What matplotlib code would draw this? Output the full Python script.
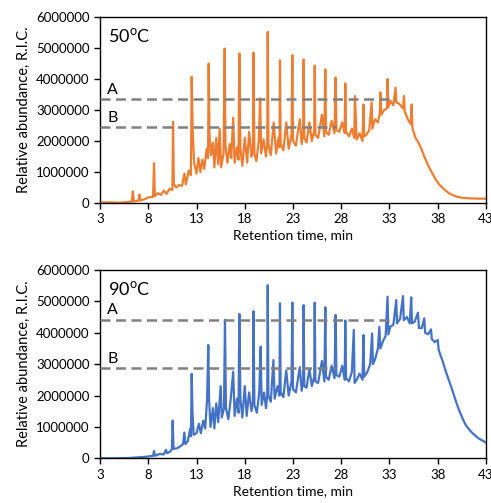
import matplotlib
matplotlib.use("Agg")
import matplotlib.pyplot as plt
import numpy as np

plt.rcParams['font.family'] = ['Lato', 'DejaVu Sans']
plt.rcParams['mathtext.fontset'] = 'custom'
plt.rcParams['mathtext.rm'] = 'Lato'

# ---- data: retention time (min), abundance (millions)
trace_50 = [
    (3.0, 0.02), (4.0, 0.02), (5.0, 0.01), (5.8, 0.03), (6.3, 0.05), (6.4, 0.37), (6.5, 0.05),
    (7.0, 0.08), (7.08, 0.27), (7.15, 0.08), (7.6, 0.12), (8.0, 0.18), (8.5, 0.2), (8.6, 1.29), (8.68, 0.22),
    (9.0, 0.32), (9.3, 0.26), (9.6, 0.4), (9.9, 0.3), (10.2, 0.45), (10.5, 0.42), (10.57, 2.62), (10.65, 0.62),
    (10.9, 0.5), (11.2, 0.58), (11.5, 0.55), (11.75, 0.95), (11.9, 0.6), (12.2, 1.05), (12.42, 0.9),
    (12.5, 4.07), (12.6, 2.35), (12.75, 1.3),
    (13.0, 0.95), (13.2, 1.45), (13.4, 1.0), (13.6, 1.4), (13.8, 1.1), (14.05, 1.75), (14.2, 1.45),
    (14.26, 4.5), (14.35, 2.2),
    (14.5, 1.55), (14.7, 1.95), (14.85, 1.15), (15.05, 2.1), (15.25, 1.25), (15.4, 2.4), (15.55, 1.15),
    (15.8, 1.6), (15.92, 4.98), (16.0, 1.85),
    (16.2, 1.3), (16.45, 1.9), (16.6, 1.45), (16.8, 2.75), (16.95, 1.3), (17.2, 1.8), (17.35, 1.4),
    (17.44, 4.82), (17.55, 1.75),
    (17.75, 1.2), (18.0, 2.1), (18.25, 1.3), (18.45, 2.3), (18.7, 1.5), (18.85, 1.7), (18.9, 4.85), (19.0, 1.6),
    (19.2, 1.35), (19.45, 2.0), (19.6, 3.38), (19.7, 1.6), (19.95, 2.05), (20.2, 1.5), (20.33, 1.9),
    (20.38, 5.52), (20.45, 1.9),
    (20.7, 1.55), (21.0, 2.6), (21.25, 1.6), (21.5, 2.1), (21.6, 1.8), (21.65, 4.6), (21.72, 1.9),
    (22.0, 1.7), (22.3, 2.6), (22.55, 1.75), (22.85, 2.2), (22.93, 4.77), (23.0, 2.0),
    (23.3, 1.85), (23.7, 2.7), (23.9, 1.9), (24.05, 2.3), (24.1, 4.63), (24.17, 2.1),
    (24.4, 1.95), (24.7, 2.6), (24.95, 2.0), (25.2, 2.35), (25.25, 4.43), (25.32, 2.2),
    (25.6, 2.1), (26.0, 2.85), (26.25, 2.15), (26.35, 4.31), (26.42, 2.3),
    (26.7, 2.2), (27.0, 2.65), (27.3, 2.25), (27.42, 4.05), (27.5, 2.35),
    (27.8, 2.3), (28.1, 2.6), (28.35, 2.25), (28.42, 3.86), (28.5, 2.3),
    (28.8, 2.15), (29.1, 2.4), (29.35, 2.1), (29.42, 3.45), (29.6, 2.05),
    (29.9, 2.25), (30.2, 2.0), (30.3, 3.18), (30.38, 2.15), (30.6, 2.2), (30.9, 2.35), (31.15, 3.25), (31.22, 2.4),
    (31.5, 2.7), (31.8, 2.6), (32.0, 2.9), (32.05, 3.57), (32.15, 2.85), (32.45, 3.0), (32.75, 3.05),
    (32.8, 4.0), (32.88, 3.1),
    (33.1, 3.3), (33.4, 3.15), (33.63, 3.72), (33.7, 3.25), (34.0, 3.2), (34.4, 3.05), (34.5, 3.45), (34.58, 2.95),
    (34.9, 2.7), (35.2, 2.55), (35.3, 3.18), (35.38, 2.4), (35.7, 2.1), (36.0, 1.95), (36.3, 1.75), (36.6, 1.5),
    (37.0, 1.22), (37.4, 0.98), (37.8, 0.75), (38.2, 0.58), (38.7, 0.43), (39.2, 0.31), (39.8, 0.22),
    (40.5, 0.17), (41.3, 0.15), (42.2, 0.14), (43.0, 0.14),
]

trace_90 = [
    (3.0, 0.0), (4.5, 0.0), (6.0, 0.01), (7.0, 0.03), (7.8, 0.05), (8.5, 0.08), (8.6, 0.23), (8.7, 0.08),
    (9.2, 0.14), (9.6, 0.12), (9.84, 0.27), (9.95, 0.16), (10.3, 0.22), (10.45, 0.3), (10.53, 1.2), (10.62, 0.3),
    (11.0, 0.32), (11.3, 0.38), (11.6, 0.45), (11.74, 0.82), (11.85, 0.45), (12.1, 0.55), (12.35, 0.95),
    (12.43, 0.7), (12.5, 2.69), (12.58, 1.5), (12.7, 0.75),
    (13.0, 0.8), (13.25, 1.1), (13.45, 0.8), (13.7, 1.2), (13.9, 0.95), (14.1, 1.9), (14.22, 3.61), (14.3, 1.9),
    (14.45, 1.0), (14.7, 1.6), (14.85, 0.95), (15.05, 1.75), (15.25, 1.15), (15.5, 2.3), (15.62, 1.3),
    (15.85, 1.6), (15.95, 4.41), (16.05, 1.6),
    (16.3, 1.25), (16.55, 1.9), (16.8, 2.76), (16.95, 1.35), (17.2, 1.9), (17.35, 1.45), (17.44, 4.6), (17.55, 1.9),
    (17.75, 1.3), (18.0, 2.3), (18.2, 1.35), (18.45, 2.1), (18.7, 1.5), (18.85, 1.8), (18.9, 4.69), (19.0, 1.7),
    (19.25, 1.45), (19.5, 2.1), (19.65, 3.56), (19.75, 1.7), (20.0, 2.1), (20.2, 1.6), (20.33, 2.0),
    (20.38, 5.52), (20.45, 2.0),
    (20.7, 1.8), (20.97, 3.13), (21.1, 1.9), (21.4, 2.3), (21.6, 2.0), (21.65, 4.94), (21.72, 2.1),
    (22.0, 1.95), (22.3, 2.8), (22.55, 2.0), (22.85, 2.45), (22.93, 4.96), (23.0, 2.2),
    (23.3, 2.1), (23.7, 2.9), (23.9, 2.15), (24.05, 2.5), (24.1, 4.88), (24.17, 2.3),
    (24.4, 2.25), (24.7, 2.85), (24.95, 2.3), (25.2, 2.6), (25.25, 4.96), (25.32, 2.45),
    (25.6, 2.4), (26.0, 3.1), (26.25, 2.45), (26.35, 4.81), (26.42, 2.6),
    (26.7, 2.5), (27.0, 2.95), (27.3, 2.55), (27.42, 4.57), (27.5, 2.65),
    (27.8, 2.6), (28.1, 2.95), (28.35, 2.5), (28.42, 4.39), (28.5, 2.55),
    (28.8, 2.45), (29.1, 2.75), (29.3, 4.09), (29.38, 2.4), (29.6, 2.5),
    (29.9, 2.7), (30.2, 2.5), (30.3, 3.93), (30.38, 2.6), (30.7, 2.75), (31.0, 3.0), (31.2, 3.98), (31.28, 3.0),
    (31.5, 3.15), (31.8, 3.5), (31.95, 4.19), (32.05, 3.5), (32.35, 3.75), (32.6, 3.9), (32.8, 5.15), (32.88, 3.95),
    (33.1, 4.2), (33.4, 4.25), (33.7, 5.04), (33.78, 4.3), (34.1, 4.45), (34.4, 5.17), (34.48, 4.4),
    (34.8, 4.5), (35.1, 4.3), (35.25, 5.13), (35.33, 4.3), (35.6, 4.35), (35.95, 4.64), (36.05, 4.15),
    (36.35, 4.15), (36.6, 4.46), (36.7, 4.0), (37.0, 3.95), (37.3, 4.11), (37.38, 3.8), (37.7, 3.7),
    (38.0, 3.77), (38.1, 3.45), (38.5, 3.1), (38.8, 2.8), (39.2, 2.45), (39.5, 2.18), (39.9, 1.8),
    (40.2, 1.54), (40.6, 1.25), (40.9, 1.06), (41.3, 0.9), (41.6, 0.8), (42.2, 0.64), (43.0, 0.5),
]

labels = ['50$^{\\mathrm{o}}$C', '90$^{\\mathrm{o}}$C']
colors = ['#ED7D31', '#4472C4']
# reference levels A and B: (level, end time)
level_a = [(3.35e6, 33.6), (4.42e6, 33.2)]
level_b = [(2.45e6, 27.5), (2.87e6, 27.5)]

xticks = [3, 8, 13, 18, 23, 28, 33, 38, 43]
yticks = [0, 1000000, 2000000, 3000000, 4000000, 5000000, 6000000]

fig = plt.figure(figsize=(4.91, 5.03), dpi=100)
axes = [fig.add_axes([0.2037, 0.5964, 0.7861, 0.3698]),
        fig.add_axes([0.2037, 0.0889, 0.7861, 0.3743])]

for ax, trace, lab, col, a, b in zip(axes, [trace_50, trace_90], labels, colors, level_a, level_b):
    t = np.array([p[0] for p in trace])
    ric = np.array([p[1] for p in trace]) * 1e6
    ax.plot(t, ric, color=col, linewidth=1.6, zorder=2)

    # dashed reference lines
    ax.plot([3, a[1]], [a[0], a[0]], color='#808080', linestyle=(0, (4, 2.2)), linewidth=1.8, zorder=3)
    ax.plot([3, b[1]], [b[0], b[0]], color='#808080', linestyle=(0, (4, 2.2)), linewidth=1.8, zorder=3)
    ax.text(3.75, a[0] + 80000, 'A', fontsize=11.5, ha='left', va='bottom')
    ax.text(3.75, b[0] + 80000, 'B', fontsize=11.5, ha='left', va='bottom')
    ax.text(3.8, 5.4e6, lab, fontsize=13, ha='left', va='center')

    ax.set_xlim(3, 43)
    ax.set_ylim(0, 6000000)
    ax.set_xticks(xticks)
    ax.set_yticks(yticks)
    ax.set_yticklabels([str(v) for v in yticks])
    ax.tick_params(labelsize=9.5, direction='out', length=4, width=1)
    for s in ax.spines.values():
        s.set_linewidth(1.0)
    ax.set_xlabel('Retention time, min', fontsize=10, labelpad=3)
    ax.set_ylabel('Relative abundance, R.I.C.', fontsize=10.5, labelpad=4)

fig.savefig('out.png', dpi=100)
